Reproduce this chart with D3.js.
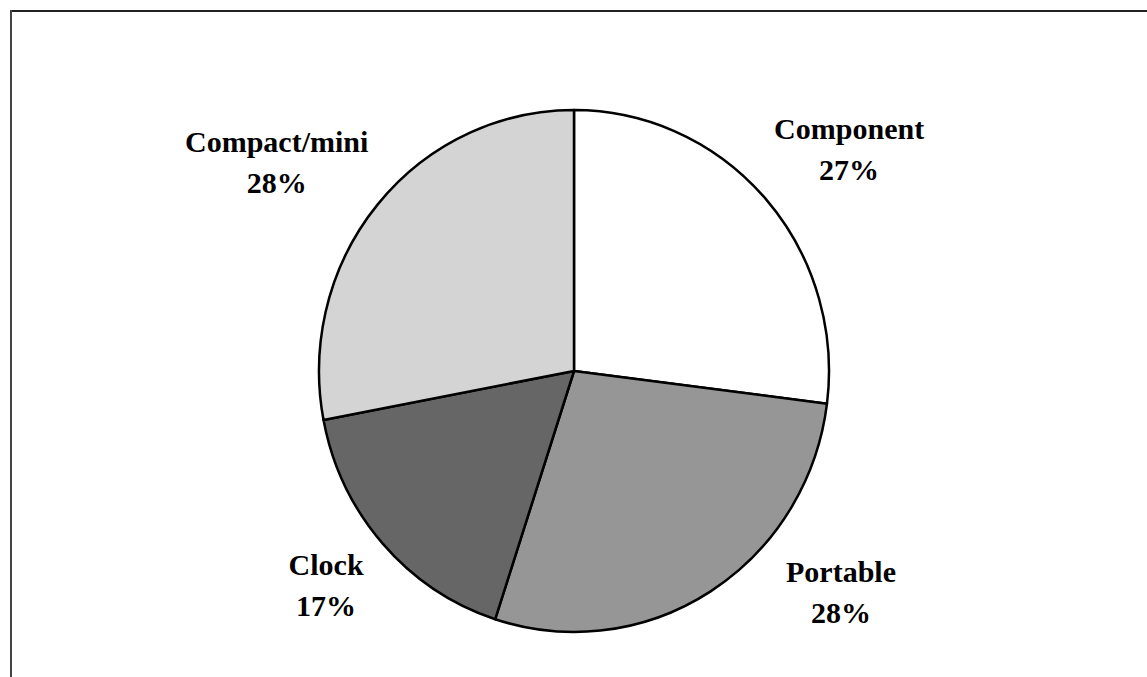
<!DOCTYPE html>
<html><head><meta charset="utf-8">
<script src="https://cdn.jsdelivr.net/npm/d3@7"></script>
<style>html,body{margin:0;padding:0;background:#fff;}svg{display:block;}</style>
</head><body>
<svg id="chart" width="1147" height="677"></svg>
<script>
const categories = ["Component", "Portable", "Clock", "Compact/mini"];
const values = [27, 28, 17, 28];
const colors = ["#ffffff", "#969696", "#666666", "#d4d4d4"];
// label anchor: [angle (deg from top, clockwise), distance from centre]
const labelAnchors = [[51.2, 353], [129.7, 347], [229.1, 328], [305.0, 363]];

const svg = d3.select("#chart");
const W = 1147, H = 677;
const cx = 574, cy = 371, rx = 255, ry = 261;

// frame
svg.append("line").attr("x1", 10).attr("y1", 11).attr("x2", W).attr("y2", 11)
  .attr("stroke", "#222").attr("stroke-width", 2);
svg.append("line").attr("x1", 11).attr("y1", 10).attr("x2", 11).attr("y2", H)
  .attr("stroke", "#444").attr("stroke-width", 2);

const pie = d3.pie().sort(null).value(d => d);
const arcs = pie(values);
const arc = d3.arc().innerRadius(0).outerRadius(ry);

const g = svg.append("g").attr("transform", `translate(${cx},${cy})`);
g.append("g").attr("transform", `scale(${rx / ry},1)`)
  .selectAll("path").data(arcs).join("path")
  .attr("d", arc)
  .attr("fill", (d, i) => colors[i])
  .attr("stroke", "#000")
  .attr("stroke-width", 2.5)
  .attr("vector-effect", "non-scaling-stroke")
  .attr("stroke-linejoin", "round");

const total = d3.sum(values);
const lab = g.selectAll("text.lab").data(arcs).join("text")
  .attr("class", "lab")
  .attr("text-anchor", "middle")
  .attr("font-family", "'Liberation Serif'")
  .attr("font-weight", "bold")
  .attr("font-size", 30)
  .attr("fill", "#000")
  .attr("transform", (d, i) => {
    const a = labelAnchors[i][0] * Math.PI / 180, dist = labelAnchors[i][1];
    return `translate(${dist * Math.sin(a)},${-dist * Math.cos(a)})`;
  });
lab.append("tspan").attr("x", 0).attr("y", -11).text((d, i) => categories[i]);
lab.append("tspan").attr("x", 0).attr("y", 30).text(d => Math.round(d.value / total * 100) + "%");
</script>
</body></html>
